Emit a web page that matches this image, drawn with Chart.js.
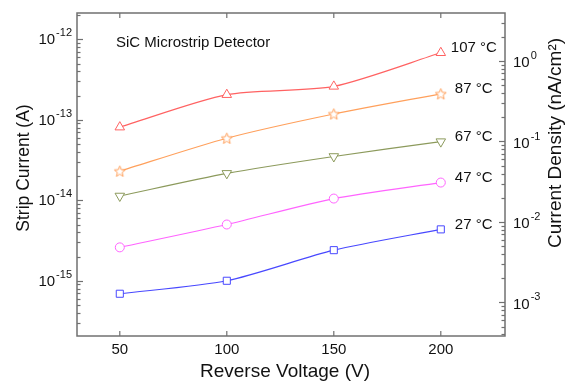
<!DOCTYPE html>
<html>
<head>
<meta charset="utf-8">
<script src="https://cdn.jsdelivr.net/npm/chart.js@4"></script>
<style>
  body { margin: 0; background: #fff; }
  #wrap { width: 565px; height: 383px; position: relative; }
</style>
</head>
<body>
<div id="wrap"><canvas id="leakChart"></canvas></div>
<script>
// Data
const voltages = [50, 100, 150, 200];
const tempLabels = ['107 °C', '87 °C', '67 °C', '47 °C', '27 °C'];
const current107 = [8.1e-14, 2.05e-13, 2.6e-13, 6.8e-13];
const current87 = [2.3e-14, 5.9e-14, 1.18e-13, 2.1e-13];
const current67 = [1.13e-14, 2.16e-14, 3.5e-14, 5.35e-14];
const current47 = [2.6e-15, 5.0e-15, 1.05e-14, 1.66e-14];
const current27 = [6.9e-16, 1.0e-15, 2.4e-15, 4.35e-15];
const xTickValues = [50, 100, 150, 200];
const leftExponents = [-12, -13, -14, -15];
const rightExponents = [0, -1, -2, -3];

const FONT = '"Liberation Sans", Arial, sans-serif';

// star marker (Chart.js has no 5-point star)
function makeStar(color) {
    const c = document.createElement('canvas');
    c.width = 13; c.height = 13;
    const g = c.getContext('2d');
    g.beginPath();
    for (let i = 0; i < 10; i++) {
        const r = i % 2 === 0 ? 5.8 : 2.5;
        const a = -Math.PI / 2 + i * Math.PI / 5;
        const px = 6.5 + r * Math.cos(a), py = 7 + r * Math.sin(a);
        if (i === 0) g.moveTo(px, py); else g.lineTo(px, py);
    }
    g.closePath();
    g.fillStyle = '#fff';
    g.fill();
    g.strokeStyle = color;
    g.lineWidth = 1;
    g.stroke();
    return c;
}

function series(values) {
    return voltages.map((v, i) => ({ x: v, y: values[i] }));
}

const colors = ['#ff6262', '#ffa05c', '#8c9a5c', '#ff64ff', '#4848ff'];

function ds(values, color, style, extra) {
    return Object.assign({
        data: series(values),
        borderColor: color,
        backgroundColor: '#fff',
        pointBorderColor: color,
        pointBackgroundColor: '#fff',
        borderWidth: 1.2,
        pointBorderWidth: 1,
        pointStyle: style,
        pointRadius: 5,
        tension: 0.25,
        yAxisID: 'y'
    }, extra || {});
}

// frame, inward ticks, tick labels and text
const decorations = {
    id: 'decorations',
    afterDraw(chart) {
        const { ctx, chartArea: a, scales } = chart;
        const x = scales.x, y = scales.y, y2 = scales.y2;
        ctx.save();
        ctx.strokeStyle = '#707070';
        ctx.lineWidth = 1.5;
        ctx.strokeRect(a.left, a.top, a.right - a.left, a.bottom - a.top);

        const line = (x1, y1, x2, y2_) => {
            ctx.beginPath(); ctx.moveTo(x1, y1); ctx.lineTo(x2, y2_); ctx.stroke();
        };

        ctx.lineWidth = 1.2;
        xTickValues.forEach(v => {
            const px = x.getPixelForValue(v);
            line(px, a.bottom, px, a.bottom - 5);
            line(px, a.top, px, a.top + 5);
        });

        function logTicks(scale, edge, dir) {
            const lo = Math.floor(Math.log10(scale.min)), hi = Math.ceil(Math.log10(scale.max));
            for (let n = lo; n <= hi; n++) {
                for (let k = 1; k <= 9; k++) {
                    const v = k * Math.pow(10, n);
                    if (v < scale.min || v > scale.max) continue;
                    const py = Math.round(scale.getPixelForValue(v)) + 0.5;
                    const len = k === 1 ? 6 : 3.5;
                    line(edge, py, edge + dir * len, py);
                }
            }
        }
        logTicks(y, a.left, 1);
        logTicks(y2, a.right, -1);

        ctx.fillStyle = '#111';
        ctx.textBaseline = 'middle';

        // x tick labels
        ctx.font = '15px ' + FONT;
        ctx.textAlign = 'center';
        xTickValues.forEach(v => ctx.fillText(String(v), x.getPixelForValue(v), 350));

        // power-of-ten labels
        function powLabel(xPos, py, exp, alignRight) {
            ctx.font = '15px ' + FONT;
            const base = '10';
            const bw = ctx.measureText(base).width;
            ctx.font = '11px ' + FONT;
            const e = String(exp);
            const ew = ctx.measureText(e).width;
            let x0 = alignRight ? xPos - ew - bw - 1 : xPos;
            ctx.textAlign = 'left';
            ctx.font = '15px ' + FONT;
            ctx.fillText(base, x0, py);
            ctx.font = '11px ' + FONT;
            ctx.fillText(e, x0 + bw + 1, py - 7);
        }
        leftExponents.forEach(n => powLabel(72, y.getPixelForValue(Math.pow(10, n)) + 1, n, true));
        rightExponents.forEach(n => powLabel(513, y2.getPixelForValue(Math.pow(10, n)) + 2, n, false));

        // series labels at the right end of each curve
        const lasts = [current107, current87, current67, current47, current27];
        ctx.font = '15px ' + FONT;
        ctx.textAlign = 'left';
        lasts.forEach((vals, i) => {
            const px = x.getPixelForValue(voltages[voltages.length - 1]) + (i === 0 ? 10 : 14);
            const py = y.getPixelForValue(vals[vals.length - 1]) - 5;
            ctx.fillText(tempLabels[i], px, py);
        });

        // inset title
        ctx.fillText('SiC Microstrip Detector', 116, 43);

        // axis titles
        ctx.font = '19px ' + FONT;
        ctx.textAlign = 'center';
        ctx.fillText('Reverse Voltage (V)', 285, 372);

        ctx.font = '17.5px ' + FONT;
        ctx.save();
        ctx.translate(24, 168);
        ctx.rotate(-Math.PI / 2);
        ctx.fillText('Strip Current (A)', 0, 0);
        ctx.restore();

        ctx.font = '19px ' + FONT;
        ctx.save();
        ctx.translate(556, 143);
        ctx.rotate(-Math.PI / 2);
        ctx.fillText('Current Density (nA/cm²)', 0, 0);
        ctx.restore();

        ctx.restore();
    }
};

const ctx = document.getElementById('leakChart').getContext('2d');
const leakChart = new Chart(ctx, {
    type: 'line',
    data: {
        datasets: [
            ds(current107, colors[0], 'triangle', { pointRadius: 5.5 }),
            ds(current87, colors[1], makeStar(colors[1])),
            ds(current67, colors[2], 'triangle', { pointRotation: 180, pointRadius: 5.5 }),
            ds(current47, colors[3], 'circle', { pointRadius: 4.5 }),
            ds(current27, colors[4], 'rect', { pointRadius: 5 })
        ]
    },
    options: {
        responsive: true,
        maintainAspectRatio: false,
        animation: false,
        layout: { padding: { top: 13, left: 0, right: 0, bottom: 0 } },
        plugins: {
            legend: { display: false },
            tooltip: { enabled: false }
        },
        scales: {
            x: {
                type: 'linear',
                min: 30,
                max: 230,
                grid: { display: false, drawTicks: false },
                border: { display: false },
                ticks: { display: false },
                afterFit: s => { s.height = 47; }
            },
            y: {
                type: 'logarithmic',
                position: 'left',
                min: 2.06e-16,
                max: 2.12e-12,
                grid: { display: false, drawTicks: false },
                border: { display: false },
                ticks: { display: false },
                afterFit: s => { s.width = 77; }
            },
            y2: {
                type: 'logarithmic',
                position: 'right',
                min: 3.83e-4,
                max: 3.95,
                grid: { display: false, drawTicks: false },
                border: { display: false },
                ticks: { display: false },
                afterFit: s => { s.width = 60; }
            }
        }
    },
    plugins: [decorations]
});
</script>
</body>
</html>
